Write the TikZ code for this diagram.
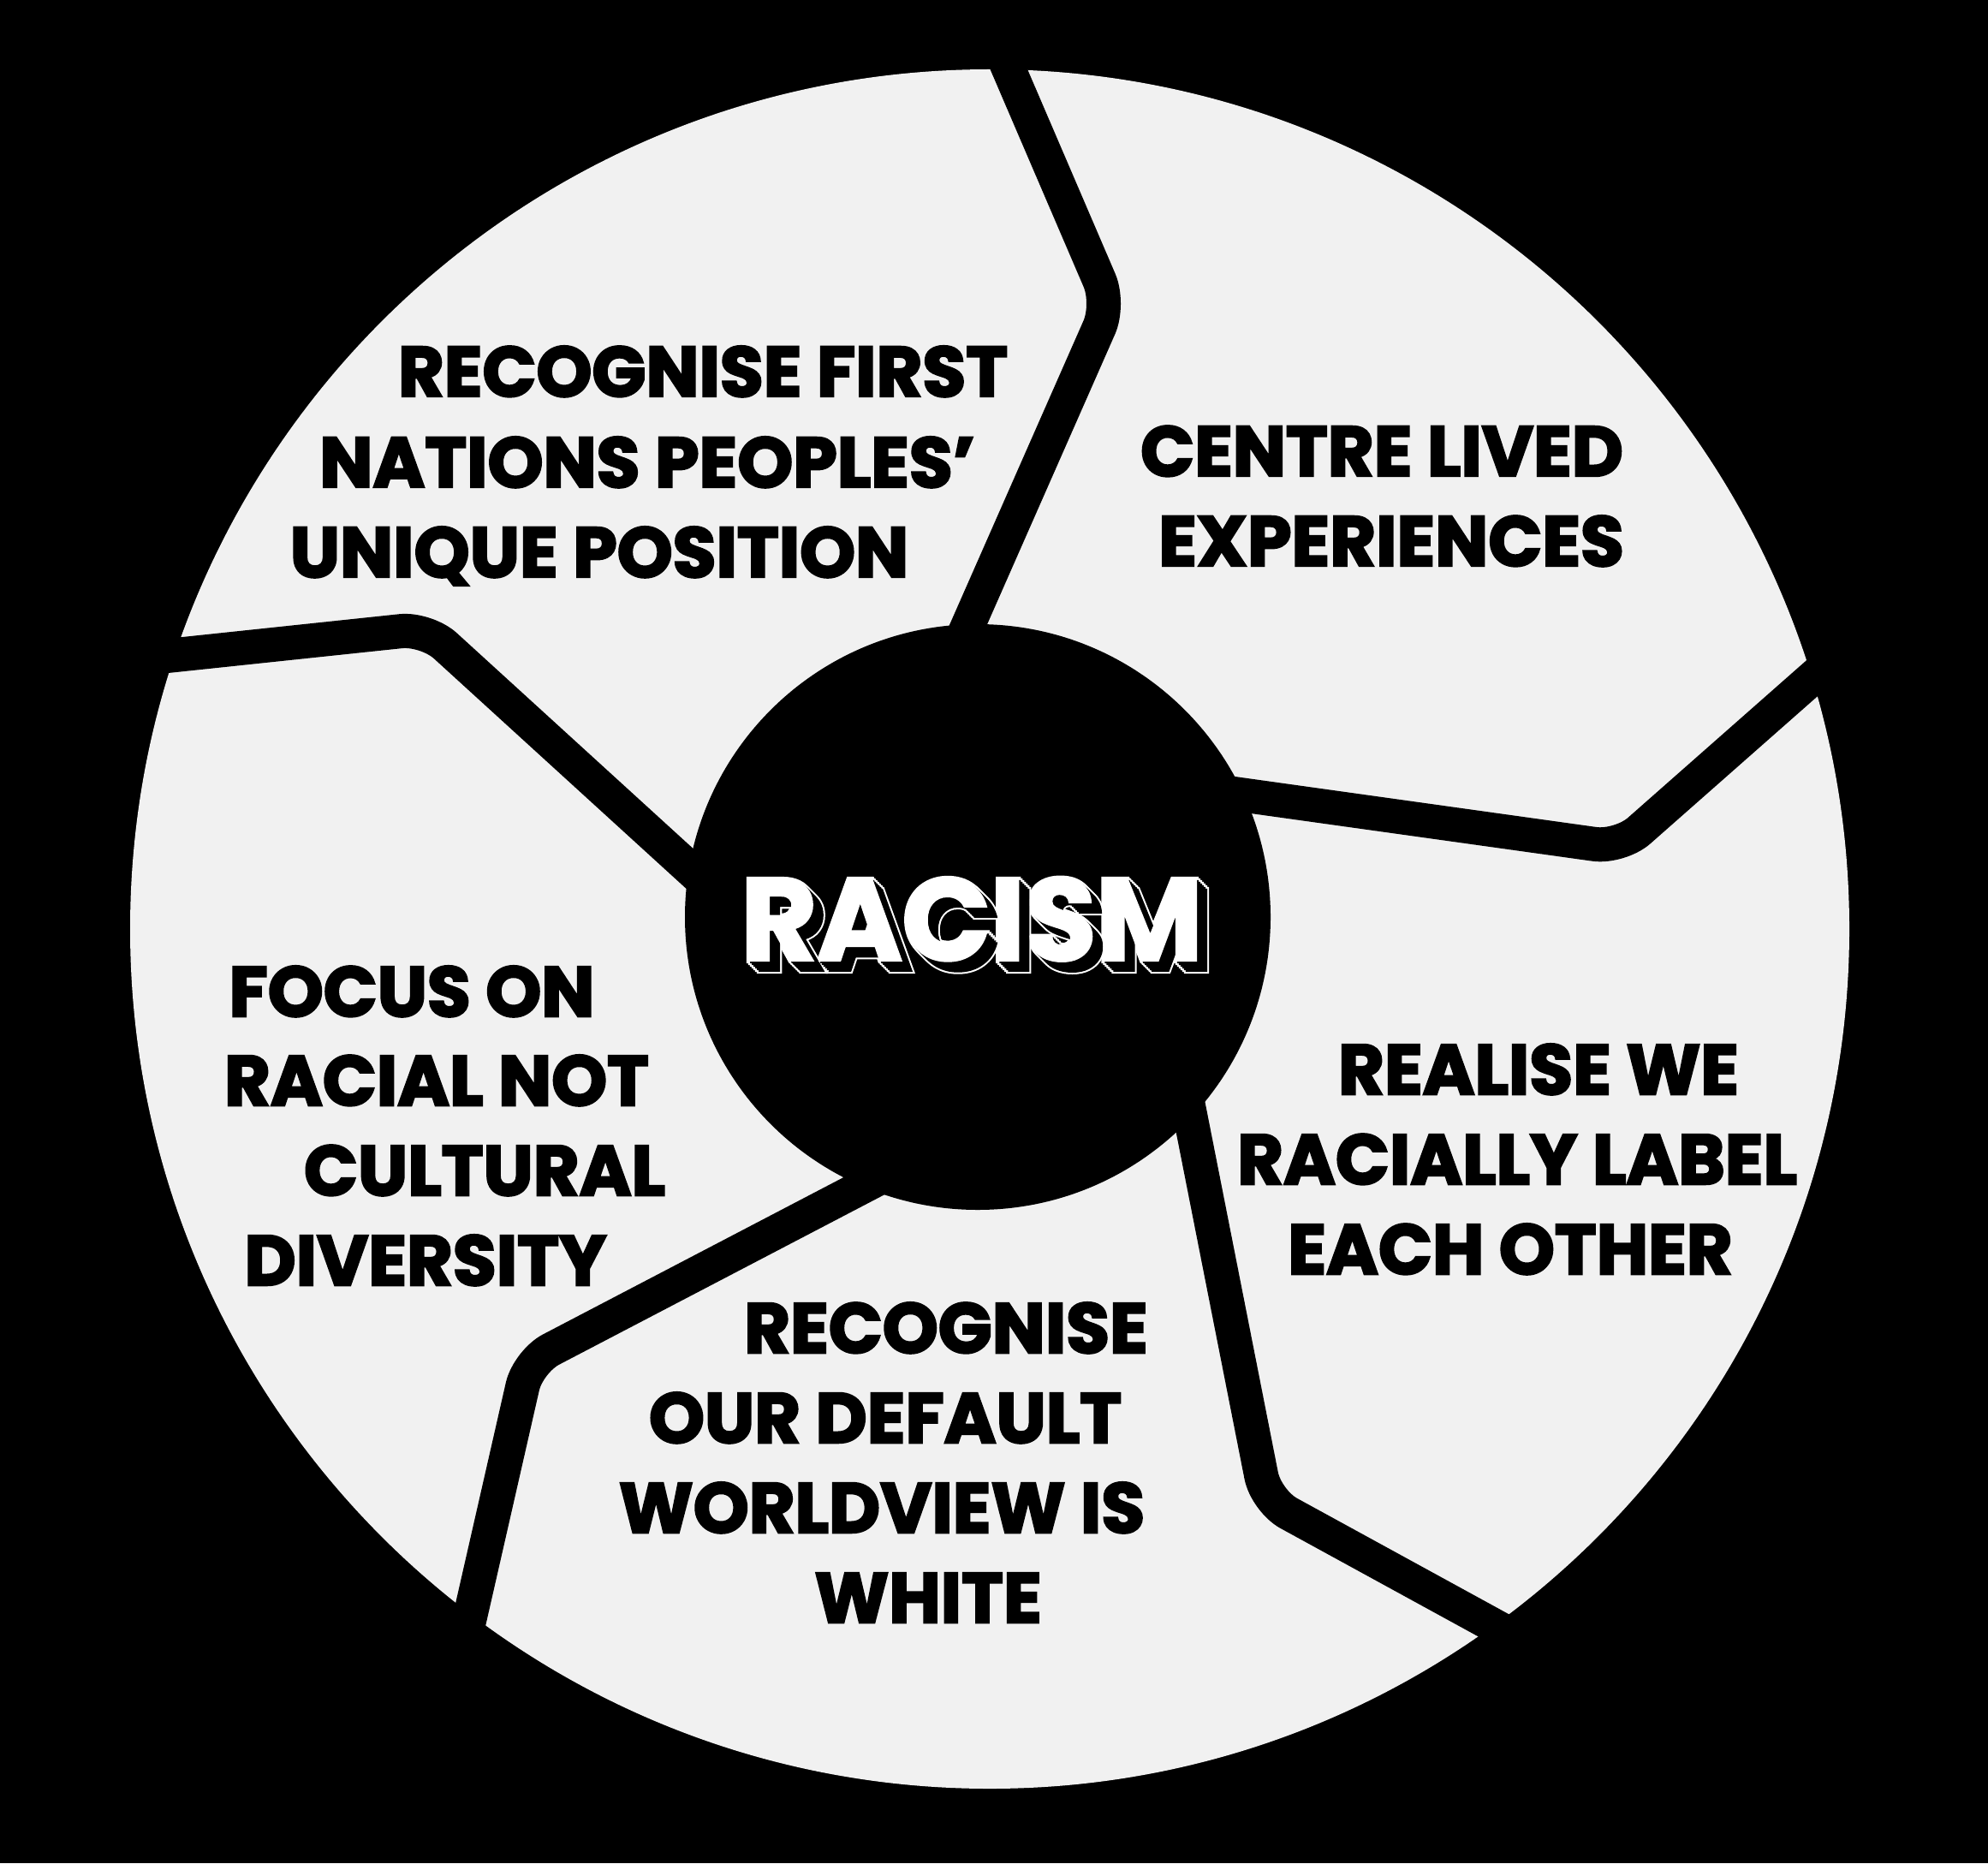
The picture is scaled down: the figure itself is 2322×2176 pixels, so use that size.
\documentclass[tikz,border=0pt]{standalone}
\usepackage{fontspec}
\usetikzlibrary{calc}
\newfontfamily\lblfont{Poppins}[FakeBold=3]
\newfontfamily\racfont{Poppins}[FakeBold=1.5]
\newfontfamily\halofont{Poppins}[FakeBold=4.5]
\definecolor{paper}{HTML}{F1F1F1}

\begin{document}
\begin{tikzpicture}[x=0.01cm,y=-0.01cm,
    wedge/.style={draw=black,line width=0.4cm,rounded corners=0.3cm},
    lbl/.style={font=\lblfont\bfseries\fontsize{23.5}{28}\selectfont,text=black,anchor=base,inner sep=0},
    rac/.style={font=\racfont\bfseries\fontsize{38.5}{44}\selectfont,anchor=base,inner sep=0},
    halo/.style={font=\halofont\bfseries\fontsize{38.5}{44}\selectfont,anchor=base,inner sep=0,text=white}]
    \useasboundingbox[fill=black] (0,0) rectangle (2322,2176);
    \coordinate (rim) at (1156,1085);
    \coordinate (hub) at (1142,1071);
    \fill[paper] (rim) circle (1004);

    % five dividers, outer end -> bend -> into the hub
    \draw[wedge] (1162,43) -- (1296,355) -- (1107,784);
    \draw[wedge] (2145,767) -- (1892,990) -- (1391,920);
    \draw[wedge] (1775,1915) -- (1479,1753) -- (1378,1241);
    \draw[wedge] (542,1919) -- (617,1590) -- (1063,1357);
    \draw[wedge] (167,769) -- (498,734) -- (850,1055);
    \fill[black] (hub) circle (342);

    \foreach \x/\y/\t [count=\i] in {
        821/463/RECOGNISE FIRST, 756/569/NATIONS PEOPLES’, 700/674/UNIQUE POSITION,
        1614/556/CENTRE LIVED, 1625/661/EXPERIENCES,
        1797/1278/REALISE WE, 1772/1383/RACIALLY LABEL, 1764/1488/EACH OTHER,
        1105/1580/RECOGNISE, 1034/1685/OUR DEFAULT, 1030/1790/WORLDVIEW IS, 1084/1895/WHITE,
        481/1187/FOCUS ON, 510/1291/RACIAL NOT, 566/1396/CULTURAL, 497/1501/DIVERSITY}
        \node[lbl] (t\i) at (\x,\y) {\t};

    % extruded title: white halo, black body, white face
    \coordinate (rc) at (1136,1122);
    \foreach \s [count=\i] in {0,2,...,12}
        \node[halo] (h\i) at ($(rc)+(\s,\s)$) {RACISM};
    \foreach \s [count=\i] in {2,4,...,12}
        \node[rac,text=black] (b\i) at ($(rc)+(\s,\s)$) {RACISM};
    \node[rac,text=white] (racism) at (rc) {RACISM};
\end{tikzpicture}
\end{document}
